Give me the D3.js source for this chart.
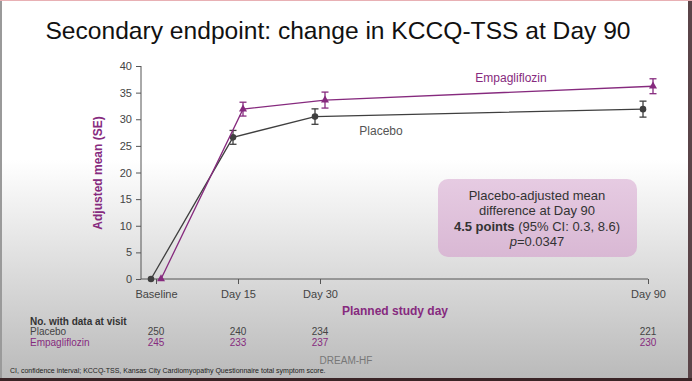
<!DOCTYPE html>
<html><head><meta charset="utf-8">
<script src="https://cdn.jsdelivr.net/npm/d3@7"></script>
<style>body{margin:0;overflow:hidden}svg{display:block;font-family:"Liberation Sans",Arial,sans-serif}</style>
</head><body>
<svg id="c" width="692" height="381"></svg>
<script>
const days = [0, 15, 30, 90];
const dayLabels = ["Baseline", "Day 15", "Day 30", "Day 90"];
const placeboMean = [0, 26.6, 30.5, 31.9];
const placeboSE = [0, 1.3, 1.45, 1.5];
const empaMean = [0, 31.9, 33.6, 36.2];
const empaSE = [0, 1.3, 1.5, 1.4];
const placeboN = [250, 240, 234, 221];
const empaN = [245, 233, 237, 230];
const yTicks = [0, 5, 10, 15, 20, 25, 30, 35, 40];

const PURPLE = "#862a7e", GREY = "#3f3f3f";
const svg = d3.select("#c");
const defs = svg.append("defs");
const bg = defs.append("linearGradient").attr("id","bg").attr("x1",0).attr("y1",0).attr("x2",0).attr("y2",1);
bg.append("stop").attr("offset","0.42").attr("stop-color","#ffffff");
bg.append("stop").attr("offset","1").attr("stop-color","#b9b9b9");
const bx = defs.append("linearGradient").attr("id","bx").attr("x1",0).attr("y1",0).attr("x2",0).attr("y2",1);
bx.append("stop").attr("offset","0").attr("stop-color","#e6cbe2");
bx.append("stop").attr("offset","1").attr("stop-color","#d9b8d4");

svg.append("rect").attr("width",692).attr("height",381).attr("fill","url(#bg)");
svg.append("rect").attr("x",0).attr("y",0).attr("width",2).attr("height",381).attr("fill","#9a9a9a");
svg.append("rect").attr("x",688).attr("y",0).attr("width",4).attr("height",381).attr("fill","#5a4448");
svg.append("rect").attr("x",0).attr("y",378).attr("width",692).attr("height",3).attr("fill","#3a2426");
svg.append("rect").attr("x",0).attr("y",0).attr("width",692).attr("height",1).attr("fill","#e8b0b4");

svg.append("text").attr("x",338).attr("y",39).attr("text-anchor","middle")
  .attr("font-size",24.6).attr("fill","#111").text("Secondary endpoint: change in KCCQ-TSS at Day 90");

const x = d3.scaleLinear().domain([0, 90]).range([156, 648]);
const y = d3.scaleLinear().domain([0, 40]).range([279, 66]);
const off = 5;

// axes
const yAxis = svg.append("g").attr("transform","translate(141,0)")
  .call(d3.axisLeft(y).tickValues(yTicks).tickSize(5).tickPadding(4));
yAxis.select(".domain").attr("stroke","#555").attr("d","M-0,66V279");
yAxis.selectAll(".tick line").attr("stroke","#555");
yAxis.selectAll(".tick text").attr("font-size",11).attr("fill","#444").attr("font-family","Liberation Sans, Arial, sans-serif");

const xAxis = svg.append("g").attr("transform","translate(0,279)")
  .call(d3.axisBottom(x).tickValues(days).tickFormat((d,i)=>dayLabels[i]).tickSize(5).tickPadding(6));
xAxis.select(".domain").attr("stroke","#555").attr("d","M141,0H648");
xAxis.selectAll(".tick line").attr("stroke","#555");
xAxis.selectAll(".tick text").attr("font-size",11).attr("fill","#444").attr("font-family","Liberation Sans, Arial, sans-serif");

svg.append("text").attr("transform","translate(102,173) rotate(-90)").attr("text-anchor","middle")
  .attr("font-size",12).attr("font-weight","bold").attr("fill",PURPLE).text("Adjusted mean (SE)");
svg.append("text").attr("x",395).attr("y",315).attr("text-anchor","middle")
  .attr("font-size",12).attr("font-weight","bold").attr("fill",PURPLE).text("Planned study day");

function series(mean, se, dx, color, shape){
  const pts = days.map((d,i)=>({d, m:mean[i], s:se[i]}));
  const line = d3.line().x(p=>x(p.d)+dx).y(p=>y(p.m));
  svg.append("path").datum(pts).attr("d",line).attr("fill","none").attr("stroke",color).attr("stroke-width",1.3);
  const eb = svg.append("g").attr("stroke",color).attr("stroke-width",1.3);
  pts.filter(p=>p.s>0).forEach(p=>{
    const cx = x(p.d)+dx;
    eb.append("line").attr("x1",cx).attr("x2",cx).attr("y1",y(p.m+p.s)).attr("y2",y(p.m-p.s));
    eb.append("line").attr("x1",cx-3.5).attr("x2",cx+3.5).attr("y1",y(p.m+p.s)).attr("y2",y(p.m+p.s));
    eb.append("line").attr("x1",cx-3.5).attr("x2",cx+3.5).attr("y1",y(p.m-p.s)).attr("y2",y(p.m-p.s));
  });
  const sym = d3.symbol().type(shape).size(shape===d3.symbolCircle?34:28);
  svg.append("g").selectAll("path").data(pts).join("path")
    .attr("transform",p=>`translate(${x(p.d)+dx},${y(p.m)})`).attr("d",sym).attr("fill",color);
}
series(placeboMean, placeboSE, -off, GREY, d3.symbolCircle);
series(empaMean, empaSE, off, PURPLE, d3.symbolTriangle);

svg.append("text").attr("x",511).attr("y",82).attr("text-anchor","middle").attr("font-size",12).attr("fill",PURPLE).text("Empagliflozin");
svg.append("text").attr("x",381).attr("y",135).attr("text-anchor","middle").attr("font-size",12).attr("fill","#555").text("Placebo");

// box
svg.append("rect").attr("x",438).attr("y",179).attr("width",199).attr("height",78).attr("rx",10)
  .attr("fill","url(#bx)");
const bt = svg.append("g").attr("font-size",13).attr("fill","#333").attr("text-anchor","middle");
bt.append("text").attr("x",537).attr("y",200).text("Placebo-adjusted mean");
bt.append("text").attr("x",537).attr("y",215).text("difference at Day 90");
const t3 = bt.append("text").attr("x",537).attr("y",231);
t3.append("tspan").attr("font-weight","bold").text("4.5 points");
t3.append("tspan").text(" (95% CI: 0.3, 8.6)");
const t4 = bt.append("text").attr("x",537).attr("y",246);
t4.append("tspan").attr("font-style","italic").text("p");
t4.append("tspan").text("=0.0347");

// number at risk
const tb = svg.append("g").attr("font-size",10).attr("font-family","Liberation Sans Narrow, Liberation Sans, Arial, sans-serif");
tb.append("text").attr("x",30).attr("y",325).attr("font-weight","bold").attr("fill","#333").text("No. with data at visit");
tb.append("text").attr("x",30).attr("y",335).attr("fill","#444").text("Placebo");
tb.append("text").attr("x",30).attr("y",346).attr("fill",PURPLE).text("Empagliflozin");
tb.append("g").selectAll("text").data(placeboN).join("text")
  .attr("x",(d,i)=>x(days[i])).attr("y",335).attr("text-anchor","middle").attr("fill","#444").text(d=>d);
tb.append("g").selectAll("text").data(empaN).join("text")
  .attr("x",(d,i)=>x(days[i])).attr("y",346).attr("text-anchor","middle").attr("fill",PURPLE).text(d=>d);

svg.append("text").attr("x",346).attr("y",364).attr("text-anchor","middle").attr("font-size",10).attr("fill","#777").text("DREAM-HF");
svg.append("text").attr("x",10).attr("y",373).attr("font-size",7).attr("fill","#222")
  .text("CI, confidence interval; KCCQ-TSS, Kansas City Cardiomyopathy Questionnaire total symptom score.");
</script>
</body></html>
